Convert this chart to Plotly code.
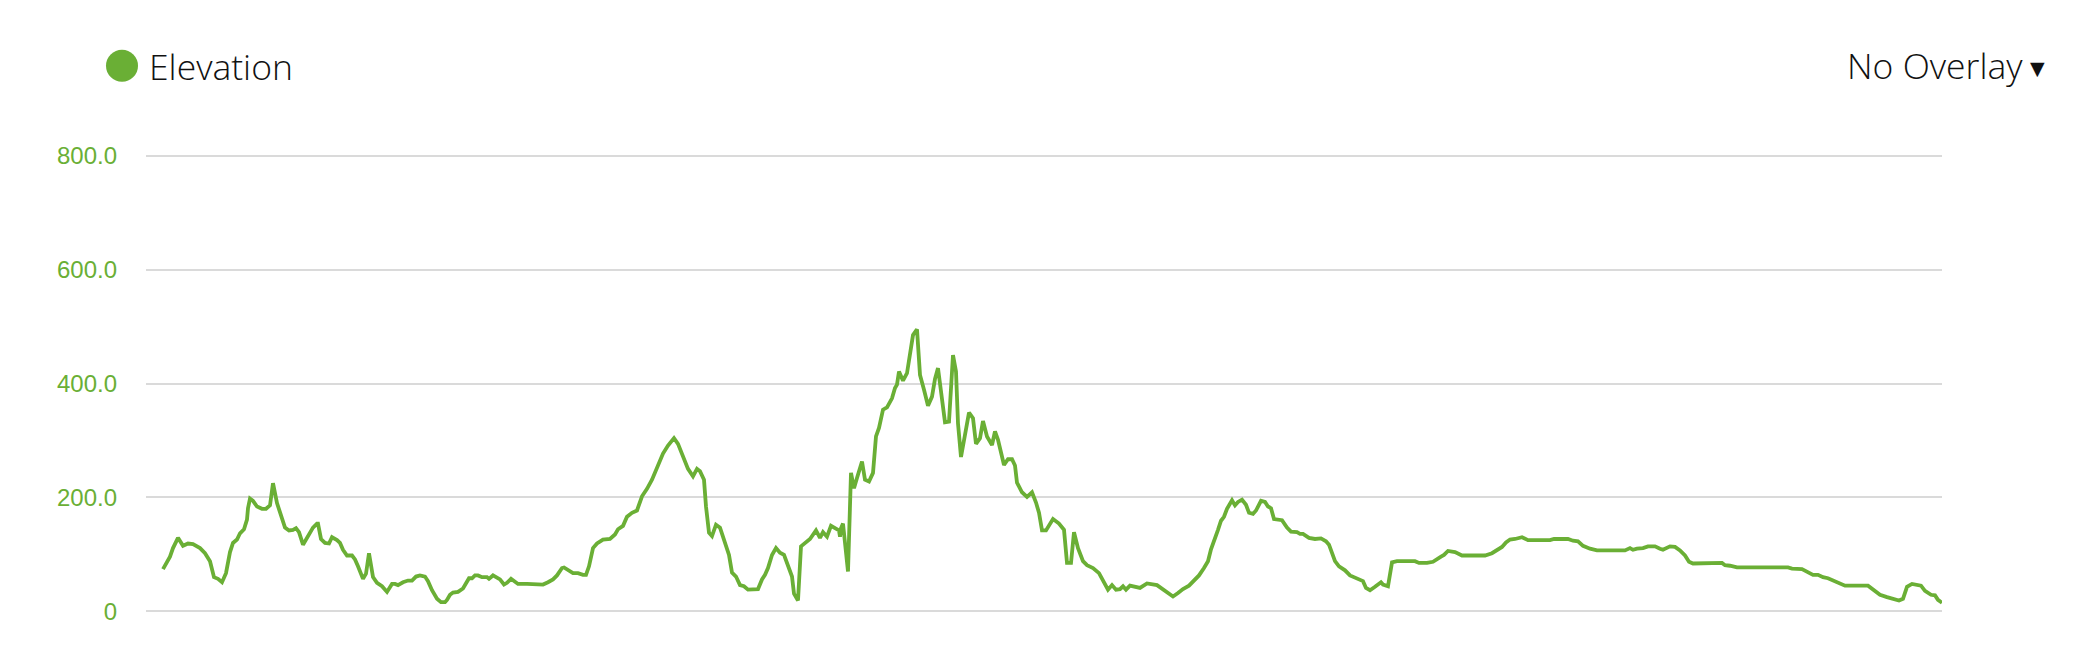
import plotly.graph_objects as go

GREEN = "#6aaf35"

# Elevation profile (distance in km, elevation in m)
dist_a = [0.0, 0.4, 0.7, 1.0, 1.5, 2.0, 2.5, 3.0, 3.4, 3.7, 4.2, 4.7, 5.1, 5.5, 5.9, 6.3, 6.7, 7.0, 7.4, 7.7,
          8.1, 8.4, 8.5, 8.7, 9.0, 9.4, 9.9, 10.3, 10.7, 11.0, 11.4, 11.9, 12.2, 12.6, 13.0, 13.3, 13.6, 14.0, 14.5, 15.0,
          15.4, 15.5, 15.8, 16.2, 16.6, 16.9, 17.4, 17.7, 18.0, 18.4, 18.9, 19.2, 19.5, 20.0, 20.3, 20.6, 21.0, 21.4, 21.9, 22.4,
          22.9, 23.2, 23.5, 24.0, 24.5, 24.9, 25.3, 25.7, 26.2, 26.5, 26.9, 27.4, 27.8, 28.2, 28.4, 28.7, 29.0, 29.5, 30.0, 30.4,
          30.6, 30.9, 31.2, 31.5, 31.9, 32.4, 32.6, 33.0, 33.4, 33.7, 34.1, 34.4, 34.8, 35.2, 35.5, 36.4, 37.5, 38.0, 38.5, 39.0,
          39.4, 39.9, 40.1, 40.5, 41.0, 41.5, 42.0, 42.3, 42.6, 43.0, 43.4]
elev_a = [74, 88, 96, 111, 129, 115, 119, 118, 113, 111, 102, 88, 60, 57, 51, 67, 104, 120, 126, 137,
          144, 161, 181, 198, 194, 184, 180, 180, 186, 225, 190, 161, 147, 142, 143, 146, 139, 117, 132, 147,
          154, 154, 127, 120, 119, 130, 125, 120, 108, 98, 98, 91, 79, 57, 66, 102, 60, 50, 44, 34,
          48, 48, 46, 51, 54, 54, 61, 63, 61, 53, 37, 22, 16, 16, 20, 29, 33, 34, 40, 53,
          58, 58, 63, 63, 60, 60, 57, 63, 60, 56, 47, 50, 57, 51, 48, 48, 48, 47, 51, 56,
          63, 76, 77, 73, 67, 67, 64, 64, 79, 111, 119]

dist_b = [44.0, 44.7, 45.2, 45.5, 46.0, 46.4, 46.9, 47.4, 47.9, 48.4, 48.9, 49.4, 49.7, 50.0, 50.5, 51.1, 51.5, 52.0, 52.5, 53.0,
          53.4, 53.7, 54.1, 54.3, 54.6, 54.9, 55.3, 55.7, 56.0, 56.3, 56.6, 56.9, 57.3, 57.7, 58.1, 58.5, 58.9, 59.5, 59.9, 60.2,
          60.5, 60.9, 61.3, 61.7, 62.1, 62.5, 62.9, 63.1, 63.5, 63.8, 64.2, 64.7, 65.3, 65.7, 66.0, 66.4, 66.8, 67.3, 67.6, 67.7,
          67.8, 68.0, 68.5, 68.8, 69.1, 69.4, 69.9, 70.2, 70.6, 71.0, 71.3, 71.6, 72.0, 72.4, 72.9, 73.2, 73.4, 73.6, 74.0, 74.4,
          74.7, 75.0, 75.4, 75.7, 76.1, 76.5, 76.9, 77.2, 77.5, 77.9, 78.2, 78.6, 78.8, 79.0, 79.3, 79.5, 79.8, 80.2, 80.6, 81.0,
          81.3, 81.7, 82.0, 82.4, 82.9, 83.2, 83.5]
elev_b = [126, 127, 135, 144, 150, 166, 173, 177, 202, 215, 231, 251, 261, 277, 291, 304, 294, 273, 250, 237,
          250, 246, 231, 184, 138, 132, 152, 147, 131, 111, 99, 68, 61, 46, 44, 38, 39, 39, 56, 64,
          76, 99, 111, 103, 99, 82, 61, 31, 19, 114, 120, 127, 142, 129, 139, 131, 150, 145, 142, 131,
          146, 154, 70, 243, 216, 234, 263, 231, 228, 243, 307, 322, 354, 358, 374, 392, 398, 421, 405, 418,
          453, 485, 495, 415, 389, 361, 377, 408, 427, 377, 332, 333, 406, 450, 421, 330, 271, 313, 349, 339,
          294, 304, 334, 307, 292, 316, 301]

dist_c = [84.1, 84.5, 84.9, 85.2, 85.4, 85.9, 86.4, 86.9, 87.3, 87.6, 87.9, 88.3, 89.0, 89.6, 90.1, 90.4, 90.8, 91.1, 91.5, 92.0,
          92.4, 93.0, 93.6, 94.0, 94.5, 94.9, 95.3, 95.7, 96.0, 96.3, 96.7, 97.7, 98.4, 99.4, 100.2, 101.0, 101.5, 102.0, 102.6, 103.1,
          103.6, 104.1, 104.5, 104.8, 105.2, 105.5, 105.8, 106.1, 106.4, 106.9, 107.2, 107.5, 107.9, 108.3, 108.6, 109.0, 109.3, 109.8, 110.2, 110.5,
          110.8, 111.1, 111.9, 112.4, 112.8, 113.4, 113.7, 114.0, 114.6, 115.2, 115.8, 116.3, 116.6, 116.9, 117.2, 117.6, 118.2, 118.7, 119.1, 119.6,
          120.0, 120.3, 120.7, 121.2, 121.8, 122.0, 122.5, 122.9, 123.4, 125.2, 125.6, 126.4, 127.0, 127.8, 128.1, 128.5]
elev_c = [257, 267, 267, 256, 226, 209, 201, 209, 191, 173, 142, 142, 162, 154, 143, 85, 85, 139, 111, 88,
          81, 76, 67, 54, 38, 46, 38, 39, 44, 38, 45, 41, 49, 46, 35, 26, 32, 39, 45, 53,
          63, 76, 88, 109, 126, 143, 159, 166, 180, 195, 186, 192, 196, 187, 173, 171, 177, 194, 192, 184,
          181, 162, 160, 147, 140, 139, 136, 136, 129, 127, 128, 123, 117, 101, 88, 79, 72, 63, 60, 57,
          53, 41, 37, 43, 51, 47, 44, 86, 88, 88, 85, 85, 87, 96, 99, 106]

dist_d = [129.2, 129.9, 132.2, 132.9, 133.9, 134.3, 134.7, 135.2, 135.9, 136.5, 138.7, 139.1, 140.5, 141.0, 141.5, 142.0, 142.7, 143.4, 146.2, 146.7,
          147.0, 147.4, 148.0, 148.5, 149.2, 149.7, 150.0, 150.7, 151.2, 151.7, 152.2, 152.6, 153.0, 155.9, 156.2, 156.7, 157.4, 162.5, 162.9, 163.9,
          164.5, 165.0, 165.5, 166.0, 166.5, 167.4, 168.2, 170.5, 171.0, 171.7, 172.4, 173.0, 173.6, 174.0, 174.4, 174.9, 175.4, 175.8, 176.2, 176.8,
          177.2, 177.5, 177.9]
elev_d = [104, 98, 98, 102, 113, 121, 126, 127, 130, 125, 125, 127, 127, 124, 123, 115, 110, 107, 107, 111,
          108, 110, 111, 114, 114, 110, 108, 114, 113, 107, 98, 87, 84, 85, 81, 80, 77, 77, 75, 74,
          69, 64, 64, 60, 58, 51, 45, 45, 39, 29, 25, 22, 19, 22, 43, 48, 46, 45, 36, 29,
          28, 20, 15]

y_ticks = [0, 200, 400, 600, 800]
y_tick_labels = ["0", "200.0", "400.0", "600.0", "800.0"]
series_name = "Elevation"
overlay_label = "No Overlay"

distance = dist_a + dist_b + dist_c + dist_d
elevation = elev_a + elev_b + elev_c + elev_d

# page has an 8px body margin; the figure is sized to fit inside it
OFF = 8
W, H = 2094 - 2 * OFF, 662 - 2 * OFF
ML, MT = 146 - OFF, 150 - OFF
MR = W - (1942 - OFF)
MB = H - (617.4 - OFF)
pw = W - ML - MR
ph = H - MT - MB


def px(x):
    return (x - OFF - ML) / pw


def py(y):
    return (H - MB - (y - OFF)) / ph


fig = go.Figure()
fig.add_trace(go.Scatter(
    x=distance, y=elevation, mode="lines", name=series_name,
    line=dict(color=GREEN, width=3.8), hoverinfo="x+y",
))

fig.update_layout(
    width=W, height=H,
    margin=dict(l=ML, r=MR, t=MT, b=MB, pad=0),
    paper_bgcolor="white", plot_bgcolor="white",
    showlegend=False,
    xaxis=dict(range=[-1.7, 177.9], showgrid=False, zeroline=False,
               showticklabels=False, showline=False, ticks=""),
    yaxis=dict(range=[-10, 810], tickvals=y_ticks, ticktext=y_tick_labels,
               showgrid=True, gridcolor="#dadada", gridwidth=2,
               zeroline=True, zerolinecolor="#dadada", zerolinewidth=2,
               showline=False, ticks="", ticklabelstandoff=28,
               tickfont=dict(family="Liberation Sans, Arial, sans-serif", size=24, color=GREEN)),
    shapes=[dict(type="circle", xref="paper", yref="paper",
                 xsizemode="pixel", ysizemode="pixel",
                 xanchor=px(122), yanchor=py(65.7),
                 x0=-16, x1=16, y0=-16, y1=16,
                 fillcolor=GREEN, line=dict(width=0))],
    annotations=[
        dict(text=series_name, xref="paper", yref="paper", x=px(147), y=py(66),
             xanchor="left", yanchor="middle", showarrow=False,
             font=dict(family="Open Sans", size=35.5, color="#111111", weight=300)),
        dict(text=overlay_label, xref="paper", yref="paper", x=px(2025), y=py(65),
             xanchor="right", yanchor="middle", showarrow=False,
             font=dict(family="Open Sans", size=35.5, color="#111111", weight=300)),
        dict(text="▼", xref="paper", yref="paper", x=px(2037.5), y=py(67.5),
             xanchor="center", yanchor="middle", showarrow=False,
             font=dict(family="DejaVu Sans", size=19, color="#111111")),
    ],
)

fig.write_html("out.html")
